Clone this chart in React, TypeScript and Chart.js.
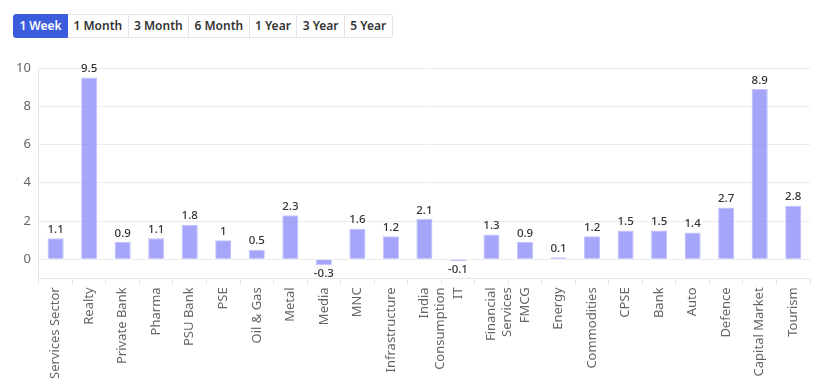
import React, { useEffect, useRef } from "react";
import { Chart, registerables } from "chart.js";

Chart.register(...registerables);

const periods = ["1 Week", "1 Month", "3 Month", "6 Month", "1 Year", "3 Year", "5 Year"];
const categories: (string | string[])[] = [
  "Services Sector", "Realty", "Private Bank", "Pharma", "PSU Bank", "PSE", "Oil & Gas", "Metal", "Media", "MNC",
  "Infrastructure", ["India", "Consumption"], "IT", ["Financial", "Services"], "FMCG", "Energy", "Commodities",
  "CPSE", "Bank", "Auto", "Defence", "Capital Market", "Tourism",
];
const values = [1.1, 9.5, 0.9, 1.1, 1.8, 1, 0.5, 2.3, -0.3, 1.6, 1.2, 2.1, -0.1, 1.3, 0.9, 0.1, 1.2, 1.5, 1.5, 1.4, 2.7, 8.9, 2.8];
const yTicks = [0, 2, 4, 6, 8, 10];

const FONT = "'Noto Sans', sans-serif";

const valueLabels = {
  id: "valueLabels",
  afterDatasetsDraw(chart: any) {
    const ctx = chart.ctx;
    const meta = chart.getDatasetMeta(0);
    ctx.save();
    ctx.font = `500 11.5px ${FONT}`;
    ctx.fillStyle = "#333";
    ctx.textAlign = "center";
    meta.data.forEach((el: any, i: number) => {
      const v = values[i];
      if (v >= 0) {
        ctx.textBaseline = "bottom";
        ctx.fillText(String(v), el.x, el.y - 3);
      } else {
        ctx.textBaseline = "top";
        ctx.fillText(String(v), el.x, el.y + 3);
      }
    });
    ctx.restore();
  },
};

export default function App() {
  const ref = useRef<HTMLCanvasElement>(null);
  useEffect(() => {
    if (!ref.current) return;
    const chart = new Chart(ref.current, {
      type: "bar",
      data: {
        labels: categories,
        datasets: [
          {
            data: values,
            backgroundColor: "rgba(130,130,248,0.72)",
            borderColor: "rgba(190,190,252,0.9)",
            borderWidth: 1,
            barPercentage: 0.6,
            categoryPercentage: 0.8,
          },
        ],
      },
      options: {
        animation: false,
        responsive: true,
        maintainAspectRatio: false,
        layout: { padding: { top: 18, right: 2, left: 0, bottom: 10 } },
        plugins: { legend: { display: false }, tooltip: { enabled: false } },
        scales: {
          x: {
            grid: { display: true, drawOnChartArea: false, color: "#e6e6e6", tickLength: 6 },
            border: { color: "#e6e6e6" },
            ticks: {
              color: "#666",
              font: { family: FONT, size: 13 },
              maxRotation: 90,
              minRotation: 90,
              autoSkip: false,
            },
          },
          y: {
            min: -1,
            max: 10,
            afterBuildTicks: (axis: any) => {
              axis.ticks = yTicks.map((v) => ({ value: v }));
            },
            grid: { color: "#ececec", drawTicks: false },
            border: { color: "#e6e6e6" },
            ticks: { color: "#666", font: { family: FONT, size: 13 }, padding: 8 },
          },
        },
      },
      plugins: [valueLabels],
    });
    return () => chart.destroy();
  }, []);

  return (
    <div style={{ fontFamily: FONT }}>
      <div style={{ display: "flex", marginLeft: 5, marginTop: 6 }}>
        {periods.map((p, i) => (
          <div
            key={p}
            style={{
              height: 24,
              boxSizing: "border-box",
              padding: "0 5.4px",
              lineHeight: "22px",
              fontSize: 12,
              fontWeight: 600,
              color: i === 0 ? "#fff" : "#333",
              background: i === 0 ? "#3b5ddd" : "#fff",
              border: "1px solid " + (i === 0 ? "#3b5ddd" : "#e3e3e3"),
              borderLeft: i === 0 ? "1px solid #3b5ddd" : "none",
              borderRadius: i === 0 ? "3px 0 0 3px" : i === periods.length - 1 ? "0 3px 3px 0" : 0,
            }}
          >
            {p}
          </div>
        ))}
      </div>
      <div style={{ position: "relative", width: 804, height: 342, marginTop: 12 }}>
        <canvas ref={ref} />
      </div>
    </div>
  );
}
